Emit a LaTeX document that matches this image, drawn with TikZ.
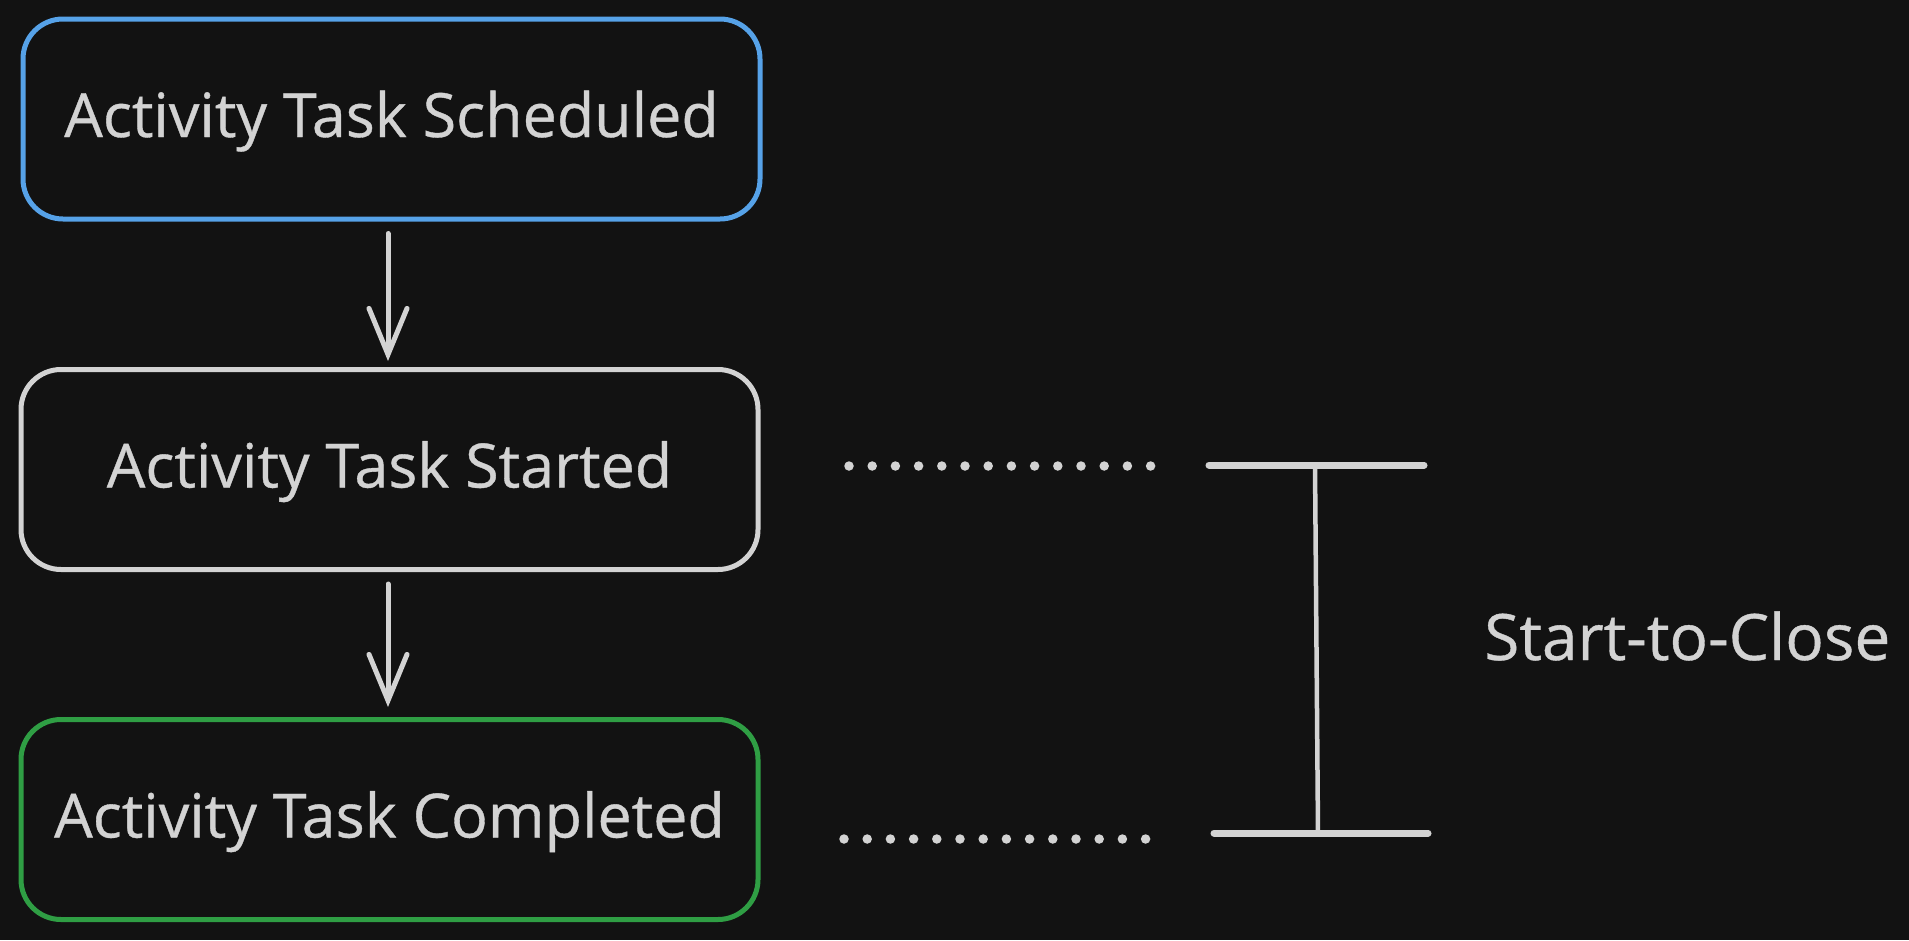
\documentclass[tikz,border=0pt]{standalone}
\usepackage{fontspec}
\setmainfont{Open Sans}
\newfontfamily\handfont{Open Sans}[FakeBold=0.6]
\usetikzlibrary{arrows.meta}
\definecolor{bg}{HTML}{121212}
\definecolor{fg}{HTML}{D3D3D3}
\definecolor{bluec}{HTML}{56A2E8}
\definecolor{greenc}{HTML}{2F9E44}
\tikzset{
  evbox/.style={draw, rounded corners=40pt, line width=5pt, minimum width=737pt, minimum height=200pt,
    text=fg, font=\handfont\fontsize{61}{70}\selectfont, inner sep=0pt, text height=42pt, text depth=6pt},
  flow/.style={draw=fg, line width=5pt, line cap=round, -{Straight Barb[length=46pt,width=38pt,line width=5pt,line cap=round]}},
  dotline/.style={draw=fg, line width=9.5pt, line cap=round, dash pattern=on 0pt off 23.2pt},
  bar/.style={draw=fg, line width=7pt, line cap=round},
  stem/.style={draw=fg, line width=4.5pt},
  lbl/.style={text=fg, font=\handfont\fontsize{64}{72}\selectfont, inner sep=0pt, anchor=base west}
}
\begin{document}
\begin{tikzpicture}[x=1pt,y=-1pt]
\fill[bg] (0,0) rectangle (1909,940);
\useasboundingbox (0,0) rectangle (1909,940);
\node[evbox, draw=bluec] (sched) at (391.5,119) {Activity Task Scheduled};
\node[evbox, draw=fg] (start) at (389.5,469.5) {Activity Task Started};
\node[evbox, draw=greenc] (comp) at (389.5,819.5) {Activity Task Completed};
\draw[flow] ([yshift=-12pt]sched.south -| 388,0) -- ([yshift=6pt]start.north -| 388,0);
\draw[flow] ([yshift=-12pt]start.south -| 388,0) -- ([yshift=10pt]comp.north -| 388,0);
\coordinate (d1a) at (849,466);
\coordinate (d1b) at (1155,466);
\coordinate (d2a) at (844,839);
\coordinate (d2b) at (1151,839);
\draw[dotline] (d1a) -- (d1b);
\draw[dotline] (d2a) -- (d2b);
\coordinate (t1) at (1209,465);
\coordinate (t2) at (1424,465);
\coordinate (b1) at (1214,833);
\coordinate (b2) at (1428,833);
\coordinate (st) at (1315,465);
\coordinate (sb) at (1318,833);
\draw[bar] (t1) -- (t2);
\draw[bar] (b1) -- (b2);
\draw[stem] (st) -- (sb);
\node[lbl] (stc) at (1484,660) {Start-to-Close};
\end{tikzpicture}
\end{document}
